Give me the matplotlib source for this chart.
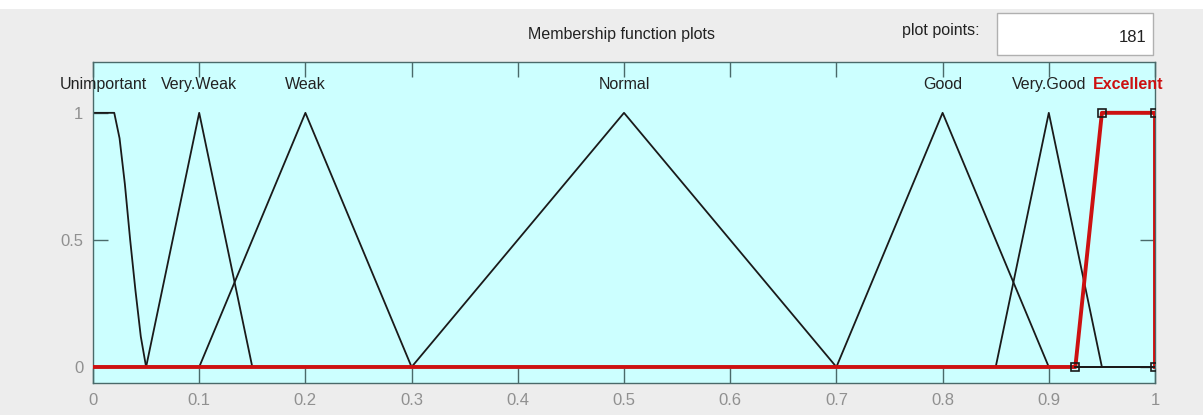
import matplotlib.pyplot as plt
from matplotlib.patches import Rectangle

# Membership functions (x, y vertices)
unimportant_x = [0, 0.02, 0.025, 0.03, 0.035, 0.04, 0.045, 0.05, 1.0]
unimportant_y = [1, 1, 0.9, 0.72, 0.5, 0.3, 0.12, 0, 0]
triangles = {
    'Very.Weak': [0.05, 0.10, 0.15],
    'Weak': [0.10, 0.20, 0.30],
    'Normal': [0.30, 0.50, 0.70],
    'Good': [0.70, 0.80, 0.90],
    'Very.Good': [0.85, 0.90, 0.95],
}
excellent_params = [0.925, 0.95, 1.0, 1.0]

label_names = ['Unimportant', 'Very.Weak', 'Weak', 'Normal', 'Good', 'Very.Good', 'Excellent']
label_pos = [0.01, 0.10, 0.20, 0.50, 0.80, 0.90, 0.975]

xticks = [0, 0.1, 0.2, 0.3, 0.4, 0.5, 0.6, 0.7, 0.8, 0.9, 1]
yticks = [0, 0.5, 1]
plot_points = 181

font = ['Liberation Sans Narrow', 'Liberation Sans', 'DejaVu Sans']
plt.rcParams['font.family'] = font

fig = plt.figure(figsize=(12.03, 4.15), dpi=100, facecolor='#ededed')
# white strip at the very top
fig.patches.append(Rectangle((0, 1 - 9 / 415), 1, 9 / 415, transform=fig.transFigure,
                             facecolor='white', edgecolor='none'))

ax = fig.add_axes([93 / 1203, 1 - 383 / 415, 1062 / 1203, 321 / 415])
ax.set_facecolor('#ccffff')

black = '#1a1a1a'
# unimportant (z-shaped, runs at zero to the end)
ax.plot(unimportant_x, unimportant_y, color=black, lw=1.3)
# triangles
for name, (a, b, c) in triangles.items():
    ax.plot([0, a, b, c, 1], [0, 0, 1, 0, 0], color=black, lw=1.3)

# Excellent (selected, red)
a, b, c, d = excellent_params
ax.plot([0, a, b, c, d], [0, 0, 1, 1, 0], color='#cc1111', lw=2.8, zorder=4)
ax.plot([a, 1], [0, 0], color=black, lw=1.3, zorder=5)
ax.plot([a, b, c, d], [0, 1, 1, 0], ls='none', marker='s', ms=5.5,
        mfc='none', mec=black, mew=1.2, zorder=6)

for name, xp in zip(label_names, label_pos):
    if name == 'Excellent':
        ax.text(xp, 1.11, name, ha='center', va='center', fontsize=11.5,
                color='#cc1111', fontweight='bold', clip_on=False)
    else:
        ax.text(xp, 1.11, name, ha='center', va='center', fontsize=11.5,
                color='#222222', clip_on=False)

ax.set_xlim(0, 1)
ax.set_ylim(-0.063, 1.2)
ax.set_xticks(xticks)
ax.set_xticklabels([f'{t:g}' for t in xticks])
ax.set_yticks(yticks)
ax.set_yticklabels([f'{t:g}' for t in yticks])
ax.tick_params(direction='in', length=11, width=1, color='#4a6a6a',
               labelcolor='#909090', labelsize=12, top=True, right=True, pad=7)
for s in ax.spines.values():
    s.set_color('#4a6a6a')
    s.set_linewidth(1)

fig.text(622 / 1203, 1 - 34 / 415, 'Membership function plots', ha='center', va='center',
         fontsize=11.5, color='#222222')
fig.text(980 / 1203, 1 - 30 / 415, 'plot points:', ha='right', va='center',
         fontsize=11.5, color='#222222')
fig.patches.append(Rectangle((997 / 1203, 1 - 55 / 415), 156 / 1203, 42 / 415,
                             transform=fig.transFigure, facecolor='white',
                             edgecolor='#b0b0b0', lw=1))
fig.text(1147 / 1203, 1 - 37 / 415, str(plot_points), ha='right', va='center',
         fontsize=12, color='#222222')

fig.savefig('out.png', dpi=100, facecolor=fig.get_facecolor())
